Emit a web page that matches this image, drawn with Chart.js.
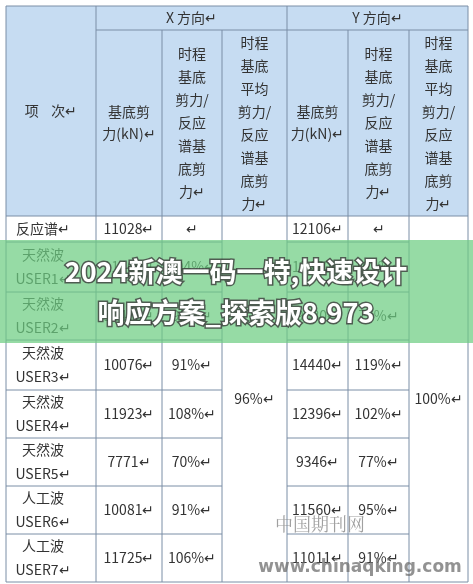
<!DOCTYPE html>
<html><head><meta charset="utf-8">
<script src="https://cdn.jsdelivr.net/npm/chart.js@4"></script>
<style>html,body{margin:0;padding:0;background:#fff}#c{display:block}</style>
</head><body>
<div style="width:473px;height:584px"><canvas id="c"></canvas></div>
<script>
// 数据
const cases = ['反应谱↵', '天然波\nUSER1↵', '天然波\nUSER2↵', '天然波\nUSER3↵', '天然波\nUSER4↵', '天然波\nUSER5↵', '人工波\nUSER6↵', '人工波\nUSER7↵'];
const xShear = ['11028↵', '11469↵', '10478↵', '10076↵', '11923↵', '7771↵', '10081↵', '11725↵'];
const xRatio = ['↵', '104%↵', '95%↵', '91%↵', '108%↵', '70%↵', '91%↵', '106%↵'];
const yShear = ['12106↵', '12470↵', '9080↵', '14440↵', '12396↵', '9346↵', '11560↵', '11011↵'];
const yRatio = ['↵', '103%↵', '75%↵', '119%↵', '102%↵', '77%↵', '95%↵', '91%↵'];
const xAvg = '96%↵';
const yAvg = '100%↵';
const headTop = ['X 方向↵', 'Y 方向↵'];
const headCols = ['基底剪\n力(kN)↵', '时程\n基底\n剪力/\n反应\n谱基\n底剪\n力↵', '时程\n基底\n平均\n剪力/\n反应\n谱基\n底剪\n力↵'];

// 版式
const colEdges = [6, 96, 162, 222, 287, 348, 409, 468];
const rowEdges = [216, 242, 292, 340, 390, 438, 486, 534, 582];
const headY = [6, 30, 216];

const tablePlugin = {
  id: 'table',
  afterDraw(chart) {
    const ctx = chart.ctx, sx = chart.scales.x, sy = chart.scales.y;
    const X = v => sx.getPixelForValue(v), Y = v => sy.getPixelForValue(v);
    const font = '14px "Noto Sans CJK SC", sans-serif';
    function text(str, cx, cy, lh) {
      const lines = str.split('\n');
      ctx.fillStyle = '#333';
      ctx.font = font;
      ctx.textAlign = 'center';
      ctx.textBaseline = 'middle';
      lines.forEach((l, i) => ctx.fillText(l, X(cx), Y(cy + (i - (lines.length - 1) / 2) * lh)));
    }
    function line(x1, y1, x2, y2) {
      ctx.beginPath(); ctx.moveTo(X(x1), Y(y1)); ctx.lineTo(X(x2), Y(y2)); ctx.stroke();
    }
    ctx.save();
    // 表头底色
    ctx.fillStyle = '#c6dcf2';
    ctx.fillRect(X(colEdges[0]), Y(headY[0]), X(colEdges[7]) - X(colEdges[0]), Y(headY[2]) - Y(headY[0]));
    ctx.strokeStyle = '#7a8ea6';
    ctx.lineWidth = 1;
    // 外框和竖线
    colEdges.forEach((c, i) => {
      if (i === 0 || i === 1 || i === 4 || i === 7) line(c, headY[0], c, rowEdges[8]);
      else line(c, headY[1], c, rowEdges[8]);
    });
    line(colEdges[0], headY[0], colEdges[7], headY[0]);
    line(colEdges[1], headY[1], colEdges[7], headY[1]);
    rowEdges.forEach((r, i) => {
      if (i === 0 || i === 8) { line(colEdges[0], r, colEdges[7], r); return; }
      line(colEdges[0], r, colEdges[3], r);
      line(colEdges[4], r, colEdges[6], r);
    });
    // 表头文字
    text('项    次↵', 51, 111, 18);
    text(headTop[0], (colEdges[1] + colEdges[4]) / 2, 18, 18);
    text(headTop[1], (colEdges[4] + colEdges[7]) / 2, 18, 18);
    [0, 3].forEach(o => {
      text(headCols[0], (colEdges[1 + o] + colEdges[2 + o]) / 2, 123, 22);
      text(headCols[1], (colEdges[2 + o] + colEdges[3 + o]) / 2, 123, 23);
      text(headCols[2], (colEdges[3 + o] + colEdges[4 + o]) / 2, 123, 23);
    });
    // 数据
    cases.forEach((name, i) => {
      const cy = (rowEdges[i] + rowEdges[i + 1]) / 2;
      text(name, 43, cy, 24);
      text(xShear[i], (colEdges[1] + colEdges[2]) / 2, cy, 24);
      text(xRatio[i], (colEdges[2] + colEdges[3]) / 2, cy, 24);
      text(yShear[i], (colEdges[4] + colEdges[5]) / 2, cy, 24);
      text(yRatio[i], (colEdges[5] + colEdges[6]) / 2, cy, 24);
    });
    text(xAvg, (colEdges[3] + colEdges[4]) / 2, (rowEdges[0] + rowEdges[8]) / 2, 24);
    text(yAvg, (colEdges[6] + colEdges[7]) / 2, (rowEdges[0] + rowEdges[8]) / 2, 24);

    // 水印
    ctx.fillStyle = 'rgba(110,205,130,0.72)';
    ctx.fillRect(X(0), Y(240), X(473) - X(0), Y(343) - Y(240));
    ctx.font = 'bold 27px "Noto Sans CJK SC", sans-serif';
    ctx.textAlign = 'center';
    ctx.textBaseline = 'middle';
    ctx.lineWidth = 3;
    ctx.strokeStyle = 'rgba(60,60,60,0.8)';
    ctx.fillStyle = '#fff';
    [['2024新澳一码一特,快速设计', 272], ['响应方案_探索版8.973', 313]].forEach(([t, y]) => {
      ctx.strokeText(t, X(236), Y(y));
      ctx.fillText(t, X(236), Y(y));
    });
    ctx.font = '18px "Noto Serif CJK SC", serif';
    ctx.fillStyle = 'rgba(120,120,120,0.7)';
    ctx.fillText('中国期刊网', X(320), Y(524));
    ctx.font = 'bold 17px "DejaVu Sans", sans-serif';
    ctx.fillStyle = 'rgba(110,110,110,0.75)';
    ctx.fillText('www.chinaqking.com', X(360), Y(568));
    ctx.restore();
  }
};

new Chart(document.getElementById('c'), {
  type: 'scatter',
  data: { datasets: [{ data: [], pointRadius: 0 }] },
  options: {
    responsive: true, maintainAspectRatio: false, animation: false,
    layout: { padding: 0 },
    plugins: { legend: { display: false }, tooltip: { enabled: false } },
    scales: {
      x: { type: 'linear', min: 0, max: 473, display: false },
      y: { type: 'linear', min: 0, max: 584, reverse: true, display: false }
    }
  },
  plugins: [tablePlugin]
});
</script>
</body></html>
